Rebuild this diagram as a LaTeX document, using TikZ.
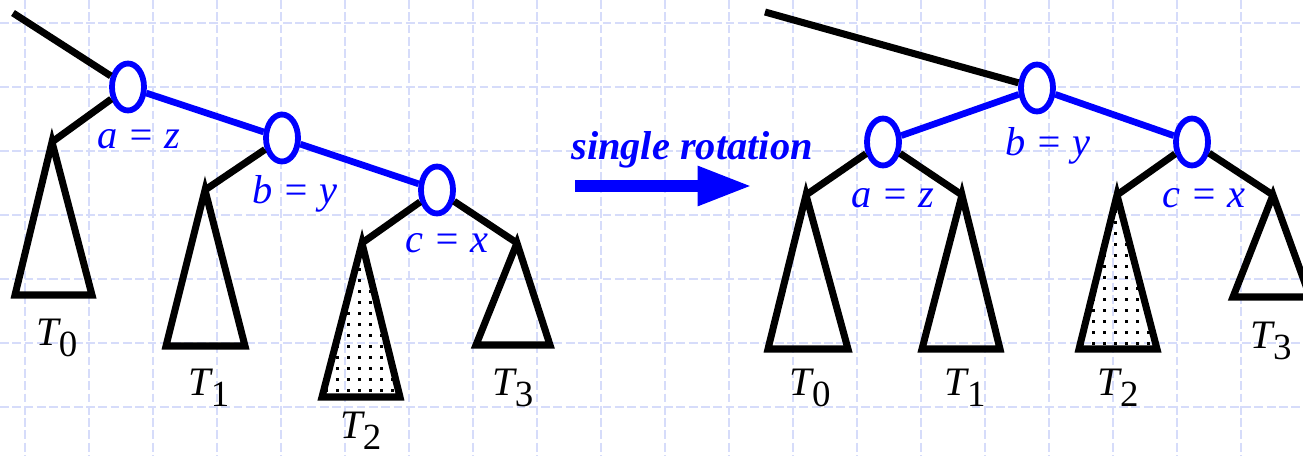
\documentclass[tikz,border=0pt]{standalone}
\usepackage{fontspec}
\setmainfont{Liberation Serif}
\usetikzlibrary{shapes.geometric,arrows.meta}

\definecolor{gridblue}{RGB}{214,220,250}
\tikzset{
  gridline/.style={draw=gridblue, line width=1pt, dash pattern=on 5pt off 2pt},
  treeline/.style={line width=4pt, black},
  bluelink/.style={line width=3.8pt, blue},
  knot/.style={ellipse, draw=blue, line width=3.3pt, fill=white, inner sep=0pt,
    minimum width=0.64cm, minimum height=0.94cm},
  keylabel/.style={blue, font=\fontsize{23}{27}\selectfont\itshape},
  treelabel/.style={font=\fontsize{23}{27}\selectfont},
}
\newcommand{\tname}[1]{\textit{T}\kern-0.06em\raisebox{-0.28em}{\fontsize{21}{25}\selectfont #1}}

\begin{document}
\begin{tikzpicture}[x=0.02cm, y=-0.02cm]
	\useasboundingbox (0,0) rectangle (1303,456);
	\fill[white] (0,0) rectangle (1303,456);
	
	% background grid
	\foreach \gx in {25,89,...,1303} \draw[gridline] (\gx,0) -- (\gx,456);
	\foreach \gy in {23,87,...,456} \draw[gridline] (0,\gy) -- (1303,\gy);
	
	% left tree
	\node[knot] (a) at (128,87) {};
	\node[knot] (b) at (282,138) {};
	\node[knot] (c) at (437,190) {};
	\coordinate (top) at (13,13);
	\coordinate (t0) at (52,142);
	\coordinate (t1) at (205,190);
	\coordinate (t2) at (362,243);
	\coordinate (t3) at (517,243);
	
	\draw[treeline] (top) -- (a);
	\draw[treeline] (a) -- (t0);
	\draw[treeline] (b) -- (t1);
	\draw[treeline] (c) -- (t2);
	\draw[treeline] (c) -- (t3);
	\draw[bluelink] (a) -- (b);
	\draw[bluelink] (b) -- (c);
	
	\begin{scope}
		\clip (t2) -- (322,397) -- (400,397) -- cycle;
		\foreach \px in {303,314,...,410} \foreach \py in {246,257,...,400} \fill (\px,\py) rectangle +(3,3);
	\end{scope}
	\draw[treeline] (t0) -- (15,295) -- (92,295) -- cycle;
	\draw[treeline] (t1) -- (166,346) -- (245,346) -- cycle;
	\draw[treeline] (t2) -- (322,397) -- (400,397) -- cycle;
	\draw[treeline] (t3) -- (476,345) -- (550,345) -- cycle;
	
	\node[keylabel] (az) at (139,139) {a = z};
	\node[keylabel] (by) at (295,194) {b = y};
	\node[keylabel] (cx) at (447,243) {c = x};
	\node[treelabel] (n0) at (57,338) {\tname{0}};
	\node[treelabel] (n1) at (209,388) {\tname{1}};
	\node[treelabel] (n2) at (361,431) {\tname{2}};
	\node[treelabel] (n3) at (513,388) {\tname{3}};
	
	% rotation arrow
	\node[blue, font=\fontsize{23}{27}\selectfont\bfseries\itshape] (rot) at (692,150) {single rotation};
	\draw[blue, line width=6.8pt, -{Triangle[length=31pt, width=21pt]}] (575,186) -- (752,186);
	
	% right tree
	\node[knot] (rb) at (1037,88) {};
	\node[knot] (ra) at (883,142) {};
	\node[knot] (rc) at (1192,142) {};
	\coordinate (rtop) at (765,12);
	\coordinate (s0) at (806,195);
	\coordinate (s1) at (962,195);
	\coordinate (s2) at (1117,195);
	\coordinate (s3) at (1273,195);
	
	\draw[treeline] (rtop) -- (rb);
	\draw[treeline] (ra) -- (s0);
	\draw[treeline] (ra) -- (s1);
	\draw[treeline] (rc) -- (s2);
	\draw[treeline] (rc) -- (s3);
	\draw[bluelink] (rb) -- (ra);
	\draw[bluelink] (rb) -- (rc);
	
	\begin{scope}
		\clip (s2) -- (1079,349) -- (1157,349) -- cycle;
		\foreach \px in {1081,1092,...,1160} \foreach \py in {199,210,...,352} \fill (\px,\py) rectangle +(3,3);
	\end{scope}
	\draw[treeline] (s0) -- (768,349) -- (848,349) -- cycle;
	\draw[treeline] (s1) -- (922,349) -- (1000,349) -- cycle;
	\draw[treeline] (s2) -- (1079,349) -- (1157,349) -- cycle;
	\draw[treeline] (s3) -- (1233,297) -- (1310,297) -- cycle;
	
	\node[keylabel] (raz) at (893,198) {a = z};
	\node[keylabel] (rby) at (1048,146) {b = y};
	\node[keylabel] (rcx) at (1204,198) {c = x};
	\node[treelabel] (m0) at (810,388) {\tname{0}};
	\node[treelabel] (m1) at (965,388) {\tname{1}};
	\node[treelabel] (m2) at (1118,388) {\tname{2}};
	\node[treelabel] (m3) at (1271,341) {\tname{3}};
\end{tikzpicture}
\end{document}
